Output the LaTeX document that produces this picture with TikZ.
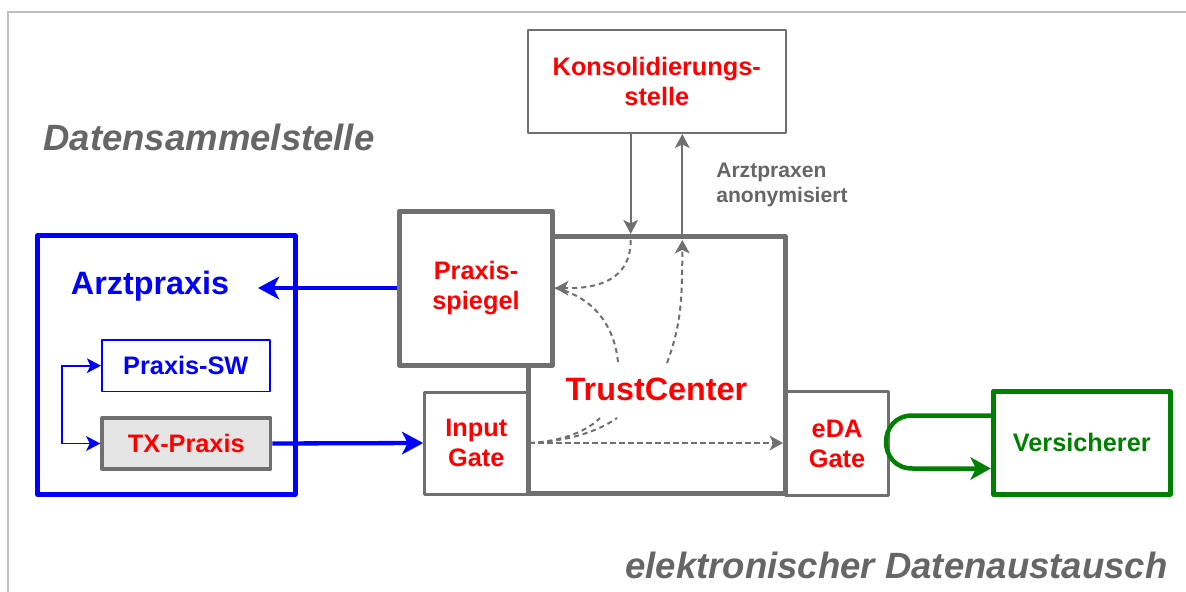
\documentclass[tikz,border=0pt]{standalone}
\usepackage{fontspec}
\setmainfont{Liberation Sans}
\usetikzlibrary{arrows.meta}

\definecolor{boxgray}{RGB}{112,112,112}
\definecolor{txtgray}{RGB}{102,102,102}
\definecolor{framegray}{RGB}{192,192,192}
\definecolor{tcred}{RGB}{255,0,0}
\definecolor{apblue}{RGB}{0,0,255}
\definecolor{vsgreen}{RGB}{0,128,0}

\def\px{0.025cm} % one pixel of the layout

\tikzset{
  box/.style={draw, fill=white, inner sep=0pt, line join=round, align=center,
    font=\bfseries\fontsize{18pt}{21.3pt}\selectfont},
  thickbox/.style={box, draw=boxgray, line width=5*\px},
  gatebox/.style={box, draw=boxgray, line width=3*\px},
  thinbox/.style={box, draw=boxgray, line width=2*\px},
  bigtext/.style={inner sep=0pt, font=\bfseries\fontsize{23pt}{27pt}\selectfont},
  titletext/.style={inner sep=0pt, text=txtgray,
    font=\bfseries\itshape\fontsize{26pt}{30pt}\selectfont},
  flow/.style={boxgray, line width=2*\px, -{Stealth[length=10pt, width=10.5pt, inset=2.5pt]}},
  dataflow/.style={boxgray, line width=2*\px, dash pattern=on 3.6pt off 2.8pt},
  datatip/.style={-{Stealth[length=9.5pt, width=10.5pt, inset=2.5pt]}},
  blueflow/.style={apblue, line width=4.3*\px, -{Stealth[length=15pt, width=16pt, inset=4pt]}},
  greenflow/.style={vsgreen, line width=4.5*\px, -{Stealth[length=14.5pt, width=16pt, inset=4pt]}},
}

\begin{document}
\begin{tikzpicture}[x=\px, y=-\px]
\useasboundingbox (0,0) rectangle (1186,592);

% frame
\draw[framegray, line width=2*\px] (1186,12) -- (8,12) -- (8,592);

\node[titletext, anchor=base west] (dstitle) at (43,150) {Datensammelstelle};
\node[titletext, anchor=base east] (edtitle) at (1168,578) {elektronischer Datenaustausch};

% Arztpraxis
\node[box, draw=apblue, line width=5*\px, minimum width=257.7*\px, minimum height=258.4*\px]
  (arzt) at (166.3,365) {};
\node[bigtext, text=apblue] (arzttext) at (150,286) {Arztpraxis};
\node[box, draw=apblue, line width=1.7*\px, text=apblue, minimum width=168*\px, minimum height=51.7*\px]
  (psw) at (185.8,365.7) {Praxis-SW};
\node[box, draw=boxgray, fill=black!10, line width=3.5*\px, text=tcred, minimum width=168.5*\px, minimum height=51*\px]
  (txp) at (186.3,443.5) {TX-Praxis};
\draw[apblue, line width=1.7*\px, {Stealth[length=10pt, width=10.5pt, inset=2.5pt]}-{Stealth[length=10pt, width=10.5pt, inset=2.5pt]}]
  (psw.west) -- ++(-39,0) |- (txp.west);

% gates and TrustCenter
\node[gatebox, text=tcred, minimum width=103.3*\px, minimum height=102*\px] (ingate) at (476.3,443) {Input\\Gate};
\node[gatebox, text=tcred, minimum width=103.5*\px, minimum height=104*\px] (edagate) at (837,443.6) {eDA\\Gate};
\node[thickbox, minimum width=257*\px, minimum height=257*\px] (tc) at (657,365) {};

\node[thinbox, text=tcred, minimum width=258*\px, minimum height=103.3*\px] (kons) at (656.8,81.3)
  {Konsolidierungs-\\stelle};
\node[inner sep=0pt, anchor=west, align=left, text=txtgray, font=\bfseries\fontsize{15pt}{18pt}\selectfont]
  (anonlabel) at (716,185) {Arztpraxen\\anonymisiert};

\coordinate (kin) at (630.7,240);
\coordinate (kout) at (682.3,240);
\coordinate (sp1) at (618,362);
\coordinate (sp2) at (667,363);
\coordinate (in1) at (600,418);
\coordinate (in2) at (617,418);
\coordinate (apin) at (258,288);

\draw[flow] (kons.south -| kin) -- (tc.north -| kin);
\draw[flow] (tc.north -| kout) -- (kons.south -| kout);

% flows inside the TrustCenter
\node[thickbox, text=tcred, minimum width=153*\px, minimum height=154*\px] (spiegel) at (476,288) {Praxis-\\spiegel};
\draw[dataflow, datatip] (kin) .. controls (630.7,272) and (610,289) .. (spiegel.east);
\draw[dataflow] (sp1) .. controls (614,322) and (590,296) .. (spiegel.east);
\draw[dataflow, datatip] (sp2) .. controls (681,325) and (682.3,300) .. (kout);
\draw[dataflow, datatip, shorten >=5*\px] (ingate.east) -- (tc.east |- ingate.east);
\draw[dataflow] (ingate.east) .. controls (565,441) and (588,430) .. (in1);
\draw[dataflow] (ingate.east) .. controls (572,441) and (600,430) .. (in2);
\node[bigtext, text=tcred] (tclabel) at (656.5,389) {TrustCenter};

% Versicherer
\node[box, draw=vsgreen, line width=5*\px, text=vsgreen, minimum width=177*\px, minimum height=102.7*\px]
  (vers) at (1081.8,442.8) {Versicherer};

\draw[blueflow] (spiegel.west) -- (apin);
\draw[blueflow] (txp.east) -- (ingate.west);
\draw[greenflow] ([yshift=27.3*\px]vers.west) -- ++(-78.3,0)
  .. controls +(-35.3,0) and +(-35.3,0) .. ++(0,53) -- ([yshift=-25.7*\px]vers.west);
\end{tikzpicture}
\end{document}
